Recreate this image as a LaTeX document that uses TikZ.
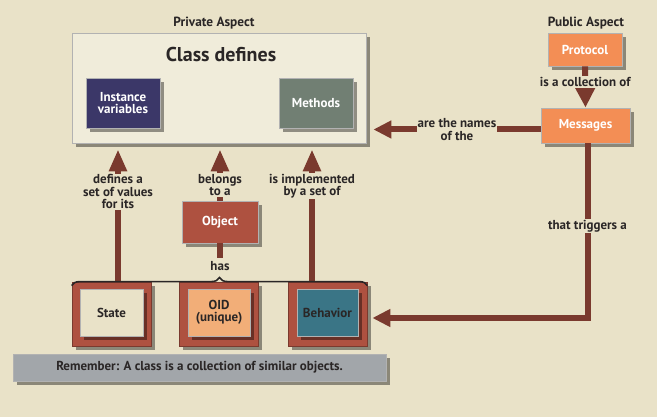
\documentclass[tikz,border=0pt]{standalone}
\usepackage{fontspec}
\setmainfont{PT Sans}
\usetikzlibrary{arrows.meta, positioning, shadows, decorations.pathreplacing}

\definecolor{bgcol}{HTML}{E9E2C8}
\definecolor{panelcol}{HTML}{F0ECDA}
\definecolor{inkcol}{HTML}{2A2626}
\definecolor{navycol}{HTML}{3B3768}
\definecolor{sagecol}{HTML}{717F73}
\definecolor{orangecol}{HTML}{F38E55}
\definecolor{rustcol}{HTML}{AE5140}
\definecolor{arrowcol}{HTML}{7A3A2E}
\definecolor{peachcol}{HTML}{F2AE78}
\definecolor{tealcol}{HTML}{3A7586}
\definecolor{greycol}{HTML}{A2A6AA}

\begin{document}
\begin{tikzpicture}[x=1pt,y=-1pt,
  every node/.style={font=\bfseries\fontsize{13}{12.5}\selectfont, text=inkcol},
  shade3/.style={drop shadow={shadow xshift=4pt,shadow yshift=-4pt,fill=black,opacity=.4}},
  box/.style={draw=gray!60, line width=.8pt, align=center, text=white, shade3},
  frame/.style={draw=arrowcol, fill=rustcol, line width=.8pt, minimum width=79pt, minimum height=64pt, shade3},
  inbox/.style={draw=gray!60, line width=.8pt, minimum height=47pt, align=center, shade3},
  lbl/.style={fill=bgcol, align=center, inner sep=1pt},
  bigarrow/.style={draw=arrowcol, line width=6pt, -{Triangle[length=22pt,width=17pt]}},
  midarrow/.style={draw=arrowcol, line width=6pt, -{Triangle[length=18pt,width=17pt]}},
  link/.style={draw=arrowcol, line width=6pt}]
\fill[bgcol] (0,0) rectangle (657,417);
\useasboundingbox (0,0) rectangle (657,417);

% private aspect
\node (privhead) at (214,23) {\fontsize{13.3}{15}\selectfont Private Aspect};
\node[box, fill=panelcol, minimum width=294pt, minimum height=110pt] (panel) at (219,88) {};
\node (classhead) at (221,55) {\fontsize{20}{23}\selectfont Class defines};
\node[box, fill=navycol, minimum width=74pt, minimum height=50pt] (ivars) at (123,103) {Instance\\variables};
\node[box, fill=sagecol, minimum width=74pt, minimum height=50pt] (methods) at (316,103) {Methods};

% public aspect
\node (pubhead) at (586,23) {\fontsize{13.3}{15}\selectfont Public Aspect};
\node[box, fill=orangecol, minimum width=74pt, minimum height=33pt] (protocol) at (585,49.5) {Protocol};
\node[box, fill=orangecol, minimum width=89pt, minimum height=35pt] (messages) at (585.5,125.5) {Messages};

% object and its parts
\node[box, fill=rustcol, minimum width=76pt, minimum height=42pt] (object) at (220,222) {Object};
\node (has) at (220,266) {has};
\node[frame] (state) at (111.5,314) {};
\node[inbox, fill=bgcol, minimum width=63pt] (statein) at (111.5,312.5) {State};
\node[frame] (oid) at (218.5,314) {};
\node[inbox, fill=peachcol, minimum width=62pt] (oidin) at (219,312.5) {OID\\(unique)};
\node[frame] (behavior) at (327.5,314) {};
\node[inbox, fill=tealcol, minimum width=61pt] (behaviorin) at (327.5,312.5) {Behavior};

\node[box, fill=greycol, text=inkcol, minimum width=373pt, minimum height=27pt] (remember) at (199.5,367.5) {Remember: A class is a collection of similar objects.};

% connectors
\draw[draw=arrowcol, line width=6pt, -{Triangle[length=22pt,width=21pt]}] (protocol.south) -- (messages.north)
  node[lbl, pos=0.38] {is a collection of};
\draw[midarrow, shorten >=7pt] ([yshift=-4pt]messages.west) -- ([yshift=-4pt]messages.west -| panel.east)
  node[lbl, pos=0.48] {are the names\\of the};
\draw[midarrow, shorten >=5pt] ([xshift=2pt]messages.south) |- ([yshift=-4pt]behavior.east)
  node[lbl, pos=0.236] {that triggers a};
\draw[bigarrow, shorten >=6pt] ([xshift=6.5pt]state.north) -- ([xshift=6.5pt]state.north |- panel.south)
  node[lbl, pos=0.65] {defines a\\set of values\\for its};
\draw[bigarrow, shorten >=6pt] (object.north) -- (object.north |- panel.south)
  node[lbl, pos=0.27] {belongs\\to a};
\draw[bigarrow, shorten >=6pt] ([xshift=-15.5pt]behavior.north) -- ([xshift=-15.5pt]behavior.north |- panel.south)
  node[lbl, pos=0.69] {is implemented\\by a set of};
\draw[link] (object.south) -- (has.north);
\draw[inkcol, line width=1.6pt, decorate, decoration={brace, amplitude=8pt}]
  ([yshift=-4pt]state.north west) -- ([yshift=-4pt]behavior.north east);
\end{tikzpicture}
\end{document}
